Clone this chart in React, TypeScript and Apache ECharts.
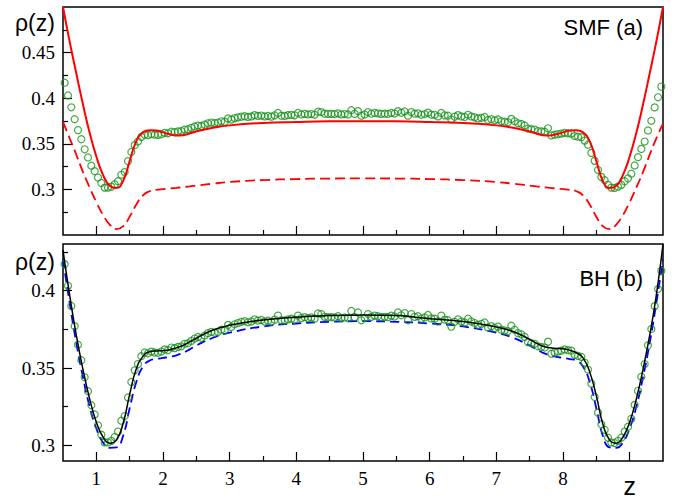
import React, { useEffect, useRef } from "react";
import * as echarts from "echarts";

// ---------- data ----------
// sample grid of the simulation points (circles)
const GREEN_Z0 = 0.525;
const GREEN_DZ = 0.05;
const greenRho = [
  0.417, 0.403, 0.39, 0.377, 0.365, 0.355, 0.344, 0.335, 0.326, 0.32,
  0.313, 0.307, 0.302, 0.302, 0.303, 0.3055, 0.309, 0.316, 0.319, 0.331,
  0.341, 0.3485, 0.3525, 0.3576, 0.36, 0.3595, 0.3606, 0.36, 0.3598, 0.3606,
  0.362, 0.3615, 0.3632, 0.3628, 0.3636, 0.364, 0.3656, 0.366, 0.3675, 0.369,
  0.37, 0.3695, 0.371, 0.3725, 0.3733, 0.3727, 0.3733, 0.3747, 0.3742, 0.3778,
  0.3765, 0.3782, 0.379, 0.3798, 0.3802, 0.3795, 0.38, 0.3814, 0.3806, 0.381,
  0.38, 0.3805, 0.3798, 0.3812, 0.3838, 0.3808, 0.3806, 0.3814, 0.3818, 0.3812,
  0.3838, 0.3822, 0.3828, 0.3822, 0.3826, 0.3818, 0.3852, 0.3848, 0.383, 0.3828,
  0.3828, 0.3826, 0.3834, 0.3822, 0.3826, 0.3822, 0.3868, 0.3828, 0.3858, 0.3808,
  0.3822, 0.3848, 0.383, 0.3838, 0.3834, 0.3828, 0.383, 0.3828, 0.3838, 0.3832,
  0.3858, 0.384, 0.3854, 0.3808, 0.3848, 0.383, 0.3834, 0.3818, 0.3826, 0.3842,
  0.382, 0.3818, 0.38, 0.3838, 0.3812, 0.3808, 0.3767, 0.3798, 0.3814, 0.38,
  0.3794, 0.3818, 0.38, 0.379, 0.3778, 0.3785, 0.3794, 0.3761, 0.377, 0.3758,
  0.3767, 0.3747, 0.3742, 0.3737, 0.3773, 0.3747, 0.3725, 0.3717, 0.3701, 0.3667,
  0.366, 0.3656, 0.364, 0.3636, 0.3632, 0.367, 0.3592, 0.36, 0.3606, 0.3612,
  0.362, 0.3615, 0.3612, 0.3585, 0.3578, 0.3572, 0.3535, 0.349, 0.34, 0.3313,
  0.3212, 0.3137, 0.3101, 0.305, 0.302, 0.3016, 0.303, 0.305, 0.309, 0.3121,
  0.3172, 0.3262, 0.3353, 0.3444, 0.3525, 0.3646, 0.3752, 0.3899, 0.401, 0.4127,
];

const lineZ = [
  0.5, 0.6, 0.7, 0.8, 0.9, 1.0, 1.1, 1.2, 1.3, 1.4, 1.5, 1.6, 1.7, 1.8, 1.9, 2.0, 2.1, 2.2, 2.3, 2.4, 2.5,
  2.75, 3.0, 3.5, 4.0, 4.5, 5.0, 5.5, 6.0, 6.5, 7.0, 7.25,
  7.5, 7.6, 7.7, 7.8, 7.9, 8.0, 8.1, 8.2, 8.3, 8.4, 8.5, 8.6, 8.7, 8.8, 8.9, 9.0, 9.1, 9.2, 9.3, 9.4, 9.5,
];

const smfSolid = [
  0.5, 0.462, 0.427, 0.393, 0.362, 0.336, 0.316, 0.304, 0.3015, 0.309, 0.331, 0.353, 0.3625, 0.3648, 0.3645, 0.3625, 0.3605, 0.3592, 0.3595, 0.3612, 0.3635,
  0.3675, 0.3702, 0.3728, 0.374, 0.3747, 0.3748, 0.3747, 0.374, 0.3728, 0.3702, 0.3675,
  0.3635, 0.3612, 0.3595, 0.3592, 0.3605, 0.3625, 0.3645, 0.3648, 0.3625, 0.353, 0.331, 0.309, 0.3015, 0.304, 0.316, 0.336, 0.362, 0.393, 0.427, 0.462, 0.5,
];

const smfDashed = [
  0.374, 0.356, 0.338, 0.319, 0.302, 0.286, 0.272, 0.2615, 0.2565, 0.2595, 0.27, 0.2835, 0.2935, 0.298, 0.2995, 0.3003, 0.301, 0.3017, 0.3025, 0.3033, 0.3042,
  0.3063, 0.3081, 0.3102, 0.3113, 0.3119, 0.312, 0.3119, 0.3113, 0.3102, 0.3081, 0.3063,
  0.3042, 0.3033, 0.3025, 0.3017, 0.301, 0.3003, 0.2995, 0.298, 0.2935, 0.2835, 0.27, 0.2595, 0.2565, 0.2615, 0.272, 0.286, 0.302, 0.319, 0.338, 0.356, 0.372,
];

const bhSolid = [
  0.426, 0.397, 0.371, 0.349, 0.33, 0.315, 0.3055, 0.3015, 0.3035, 0.314, 0.333, 0.3495, 0.3575, 0.3605, 0.361, 0.3612, 0.3618, 0.363, 0.3646, 0.3668, 0.3692,
  0.3745, 0.3776, 0.381, 0.3828, 0.3838, 0.3842, 0.3838, 0.3818, 0.38, 0.3765, 0.3735,
  0.3685, 0.366, 0.364, 0.363, 0.3626, 0.3624, 0.3615, 0.3598, 0.3565, 0.3475, 0.332, 0.3135, 0.3035, 0.3015, 0.3055, 0.315, 0.33, 0.349, 0.371, 0.397, 0.43,
];

const bhDashed = [
  0.42, 0.392, 0.366, 0.344, 0.325, 0.311, 0.302, 0.2985, 0.2988, 0.306, 0.324, 0.341, 0.351, 0.3548, 0.3558, 0.3565, 0.3572, 0.3582, 0.3598, 0.362, 0.3645,
  0.3695, 0.3728, 0.3768, 0.3787, 0.3798, 0.3802, 0.3798, 0.3787, 0.3768, 0.3728, 0.3695,
  0.3645, 0.362, 0.3598, 0.3582, 0.3572, 0.3565, 0.3558, 0.3548, 0.351, 0.341, 0.324, 0.306, 0.2988, 0.2985, 0.302, 0.311, 0.325, 0.344, 0.366, 0.392, 0.42,
];

const xMajorTicks = [1, 2, 3, 4, 5, 6, 7, 8, 9];
const xMinorTicks = [1.5, 2.5, 3.5, 4.5, 5.5, 6.5, 7.5, 8.5];
const yTopMajor = [0.3, 0.35, 0.4, 0.45];
const yTopMinor = [0.275, 0.325, 0.375, 0.425, 0.475];
const yBotMajor = [0.3, 0.35, 0.4];
const yBotMinor = [0.325, 0.375, 0.425];

const GREEN = "#15921a";
const SERIF = "Liberation Serif";
const SANS = "Liberation Sans";

function pairs(xs: number[], ys: number[]) {
  return ys.map((y, i) => [xs[i], y]);
}

export default function App() {
  const ref = useRef<HTMLDivElement>(null);

  useEffect(() => {
    if (!ref.current) return;
    const chart = echarts.init(ref.current, null, { renderer: "svg" });

    const greenPts = greenRho.map((v, i) => [GREEN_Z0 + GREEN_DZ * i, v]);

    const xAxisBase = (gridIndex: number, ticks: number[], len: number, labels: boolean) => ({
      gridIndex,
      type: "value",
      position: "bottom",
      min: 0.5,
      max: 9.5,
      axisLine: { show: false },
      splitLine: { show: false },
      axisTick: { show: true, inside: true, length: len, customValues: ticks, lineStyle: { color: "#000", width: 1.2 } },
      axisLabel: labels
        ? {
            show: true,
            customValues: ticks,
            margin: 8,
            fontFamily: SERIF,
            fontSize: 19,
            color: "#000",
            formatter: (v: number) => (Math.abs(v - 9) < 1e-6 ? "{z|z}" : String(v)),
            rich: {
              z: { fontFamily: SANS, fontSize: 25, color: "#000", padding: [4, 0, 0, 0] },
            },
          }
        : { show: false },
    });

    const yAxisBase = (gridIndex: number, min: number, max: number, ticks: number[], len: number, labels: boolean) => ({
      gridIndex,
      type: "value",
      position: "left",
      min,
      max,
      axisLine: { show: false },
      splitLine: { show: false },
      axisTick: { show: true, inside: true, length: len, customValues: ticks, lineStyle: { color: "#000", width: 1.2 } },
      axisLabel: labels
        ? { show: true, customValues: ticks, margin: 8, fontFamily: SERIF, fontSize: 19, color: "#000" }
        : { show: false },
    });

    const lineCommon = { showSymbol: false, symbol: "none", smooth: 0.5, clip: true };

    chart.setOption({
      animation: false,
      backgroundColor: "#fff",
      grid: [
        { left: 63, right: 14, top: 7, height: 228, show: true, borderColor: "#000", borderWidth: 1.5, backgroundColor: "transparent" },
        { left: 63, right: 14, top: 244, height: 231, show: true, borderColor: "#000", borderWidth: 1.5, backgroundColor: "transparent" },
      ],
      xAxis: [
        xAxisBase(0, xMajorTicks, 9, false),
        xAxisBase(0, xMinorTicks, 5, false),
        xAxisBase(1, xMajorTicks, 9, true),
        xAxisBase(1, xMinorTicks, 5, false),
      ],
      yAxis: [
        yAxisBase(0, 0.25, 0.5, yTopMajor, 9, true),
        yAxisBase(0, 0.25, 0.5, yTopMinor, 5, false),
        yAxisBase(1, 0.29, 0.43, yBotMajor, 9, true),
        yAxisBase(1, 0.29, 0.43, yBotMinor, 5, false),
      ],
      series: [
        {
          type: "line",
          xAxisIndex: 0,
          yAxisIndex: 0,
          data: pairs(lineZ, smfDashed),
          ...lineCommon,
          lineStyle: { color: "#ff0000", width: 1.8, type: [10, 5] },
          z: 2,
        },
        {
          type: "scatter",
          xAxisIndex: 0,
          yAxisIndex: 0,
          data: greenPts,
          symbol: "circle",
          symbolSize: 7,
          itemStyle: { color: "rgba(0,0,0,0)", borderColor: GREEN, borderWidth: 1.2 },
          clip: true,
          z: 3,
        },
        {
          type: "line",
          xAxisIndex: 0,
          yAxisIndex: 0,
          data: pairs(lineZ, smfSolid),
          ...lineCommon,
          lineStyle: { color: "#ff0000", width: 2 },
          z: 4,
        },
        {
          type: "line",
          xAxisIndex: 2,
          yAxisIndex: 2,
          data: pairs(lineZ, bhDashed),
          ...lineCommon,
          lineStyle: { color: "#0000ff", width: 1.8, type: [9, 5] },
          z: 2,
        },
        {
          type: "scatter",
          xAxisIndex: 2,
          yAxisIndex: 2,
          data: greenPts,
          symbol: "circle",
          symbolSize: 7,
          itemStyle: { color: "rgba(0,0,0,0)", borderColor: GREEN, borderWidth: 1.2 },
          clip: true,
          z: 3,
        },
        {
          type: "line",
          xAxisIndex: 2,
          yAxisIndex: 2,
          data: pairs(lineZ, bhSolid),
          ...lineCommon,
          lineStyle: { color: "#000", width: 1.5 },
          z: 4,
        },
      ],
      graphic: [
        { type: "text", x: 15, y: 23, style: { text: "ρ(z)", fontFamily: SANS, fontSize: 23, fill: "#000", align: "left", verticalAlign: "middle" } },
        { type: "text", x: 15, y: 262, style: { text: "ρ(z)", fontFamily: SANS, fontSize: 23, fill: "#000", align: "left", verticalAlign: "middle" } },
        { type: "text", x: 643, y: 27, style: { text: "SMF (a)", fontFamily: SANS, fontSize: 22, fill: "#000", align: "right", verticalAlign: "middle" } },
        { type: "text", x: 643, y: 278, style: { text: "BH (b)", fontFamily: SANS, fontSize: 22, fill: "#000", align: "right", verticalAlign: "middle" } },
      ],
    });

    return () => chart.dispose();
  }, []);

  return (
    <div
      ref={ref}
      style={{ position: "fixed", left: 0, top: 0, width: 677, height: 498, background: "#fff" }}
    />
  );
}
